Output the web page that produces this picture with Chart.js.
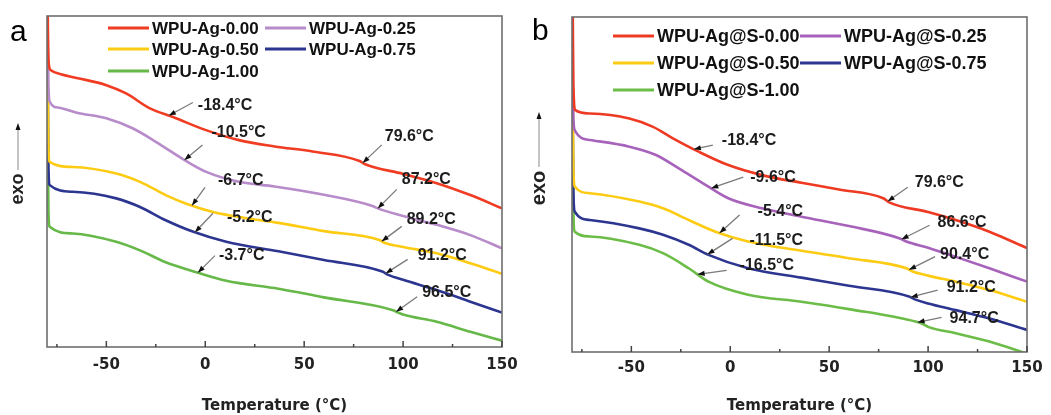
<!DOCTYPE html>
<html>
<head>
<meta charset="utf-8">
<script src="https://cdn.jsdelivr.net/npm/chart.js@4.4.0/dist/chart.umd.min.js"></script>
<style>
  html, body { margin: 0; padding: 0; background: #fff; }
  #wrap { position: relative; width: 1051px; height: 415px; overflow: hidden; }
  .panel { position: absolute; top: 0; height: 415px; }
  #pa { left: 0; width: 520px; }
  #pb { left: 520px; width: 531px; }
</style>
</head>
<body>
<div id="wrap">
  <div class="panel" id="pa"><canvas id="chartA" width="520" height="415"></canvas></div>
  <div class="panel" id="pb"><canvas id="chartB" width="531" height="415"></canvas></div>
</div>
<script>
// tick positions on the temperature axis (labels only on multiples of 50)
const xTicks = [-75, -50, -25, 0, 25, 50, 75, 100, 125, 150];

// ---- panel a : WPU-Ag ----
const aNames = ['WPU-Ag-0.00', 'WPU-Ag-0.25', 'WPU-Ag-0.50', 'WPU-Ag-0.75', 'WPU-Ag-1.00'];
const aColors = ['#f03c22', '#b88bca', '#fdcb12', '#2c3590', '#66b848'];

const aT0 = [-79.6, -79.4, -79, -78, -73, -65, -50, -40, -28, -16, 0, 17, 35, 55, 78, 80.5, 100, 117, 134, 150];
const aY0 = [100, 90, 85, 83.6, 82.4, 81.3, 79.1, 76.6, 72.1, 69.4, 65.6, 62.5, 60.6, 59.0, 56.2, 55.3, 52.3, 49.5, 45.9, 41.9];
const aT1 = [-79.6, -79.3, -78.6, -74, -65, -50, -36.5, -25, -10, 0.5, 17, 35, 60, 84.5, 87.5, 100, 117, 134, 150];
const aY1 = [93, 80, 74.1, 72.3, 70.8, 69.1, 66, 62, 56.3, 52.9, 49.9, 48.5, 46, 42.6, 41.8, 39.6, 36.9, 33.8, 29.8];
const aT2 = [-79.6, -79.3, -78.6, -67, -45, -33, -20, -9.6, 4, 20, 37, 60, 88, 90.5, 100, 117, 134, 150];
const aY2 = [83, 62, 55.9, 54.4, 52.4, 49.9, 45.9, 43.3, 40.8, 39.0, 37.5, 35.0, 32.3, 31.5, 30.2, 28.3, 25.3, 22.1];
const aT3 = [-79.6, -79.3, -78.6, -67, -45, -33, -20, -6, 10.6, 37, 60, 89.5, 92.5, 100, 117, 134, 150];
const aY3 = [77.6, 55, 48.9, 46.9, 44.9, 42.3, 38.3, 34.8, 31.8, 28.9, 26.3, 22.8, 21.8, 20.3, 17.2, 13.7, 10.4];
const aT4 = [-79.6, -79.3, -78.6, -67, -45, -33, -20, -4.5, 10.6, 37, 60, 94.5, 97.5, 100, 117, 134, 150];
const aY4 = [64, 42, 36.3, 34.3, 31.8, 29.2, 25.6, 22.6, 20.0, 17.6, 15.0, 11.2, 10.4, 9.8, 7.6, 4.6, 1.9];

const aTg = [-18.4, -10.5, 79.6, -6.7, 87.2, -5.2, 89.2, -3.7, 91.2, 96.5];
const aTgSeries = [0, 1, 0, 2, 1, 3, 2, 4, 3, 4];

// ---- panel b : WPU-Ag@S ----
const bNames = ['WPU-Ag@S-0.00', 'WPU-Ag@S-0.25', 'WPU-Ag@S-0.50', 'WPU-Ag@S-0.75', 'WPU-Ag@S-1.00'];
const bColors = ['#ee3a22', '#a762bb', '#fdcb12', '#2c3590', '#6cbd48'];

const bT0 = [-79.6, -79.3, -78.3, -71, -51, -39, -29, -16, -1, 16, 36, 55, 77.3, 80.6, 100, 114, 131, 150];
const bY0 = [100, 80, 72.2, 71.2, 69.7, 67.2, 63.8, 59.8, 55.8, 52.8, 50.5, 48.5, 45.9, 44.6, 41.8, 39.4, 35.9, 31];
const bT1 = [-79.6, -79.3, -78.6, -71, -51, -37.5, -26, -12.5, -1, 16, 36, 60, 85.7, 89, 100, 114, 131, 150];
const bY1 = [78, 70, 66.2, 63.3, 61.3, 58.8, 54.8, 49.9, 45.9, 42.9, 40.4, 37.6, 33.9, 33.0, 31.1, 28.4, 25, 21];
const bT2 = [-79.6, -79.3, -78.6, -71, -46, -34, -21, -7.5, 9, 36, 60, 89, 91.6, 100, 114, 131, 150];
const bY2 = [76, 55, 49.4, 47.4, 44.9, 42.9, 39.4, 35.9, 33, 30.2, 28, 25, 24.2, 22.8, 21, 18.5, 15];
const bT3 = [-79.6, -79.3, -78.6, -71, -46, -34, -21, -11, 9, 36, 60, 90.7, 93.3, 100, 114, 131, 150];
const bY3 = [67, 48, 41.9, 39.4, 36.9, 35, 32, 29, 25, 22.2, 19.8, 16.5, 15.7, 14.5, 12.5, 10, 6.6];
const bT4 = [-79.6, -79.3, -78.6, -71, -46, -34, -21, -11, 9, 36, 60, 94.1, 97.5, 100, 114, 131, 150];
const bY4 = [59, 42, 35.9, 34.5, 32, 29.5, 25, 21, 17.1, 15, 12.8, 9, 8.3, 7.5, 5.6, 3.1, -0.5];

const bTg = [-18.4, -9.6, 79.6, -5.4, 86.6, -11.5, 90.4, -16.5, 91.2, 94.7];
const bTgSeries = [0, 1, 0, 2, 1, 3, 2, 4, 3, 4];

// layout of the two panels (pixels, canvas-local)
const layoutA = {
  pad: {left: 47, top: 16, right: 18, bottom: 0}, axisH: 68, tickPad: 9,
  letter: 'a', letterX: 10, letterY: 41,
  exoX: 18, exoY: 189, exoFont: 18, arrowTop: 123, arrowBottom: 170,
  legendX: [108, 265], legendY: [28, 49, 71], legendFont: 17,
  tail: [[24,-13],[18,-15],[19,-18],[13,-18],[19,-19],[18,-19],[20,-15],[17,-17],[22,-14],[21,-15]],
  text: [[29,-10],[27,-27],[22,-26],[26,-25],[24,-29],[32,-15],[25,-22],[21,-17],[32,-18],[26,-19]]
};
const layoutB = {
  pad: {left: 52, top: 17, right: 24, bottom: 0}, axisH: 63, tickPad: 7,
  letter: 'b', letterX: 12, letterY: 40,
  exoX: 19, exoY: 188, exoFont: 20, arrowTop: 112, arrowBottom: 167,
  legendX: [93, 280], legendY: [36, 63, 90], legendFont: 18,
  tail: [[19,-4],[32,-11],[20,-14],[20,-18],[28,-14],[25,-16],[26,-13],[29,-4],[27,-7],[24,-5]],
  text: [[28,-9],[39,-11],[27,-19],[38,-21],[36,-17],[42,-14],[31,-15],[42,-9],[36,-10],[32,-4]]
};

function valueAt(ts, ys, t) {
  for (let i = 1; i < ts.length; i++) {
    if (t <= ts[i]) {
      const f = (t - ts[i-1]) / (ts[i] - ts[i-1]);
      return ys[i-1] + f * (ys[i] - ys[i-1]);
    }
  }
  return ys[ys.length - 1];
}

function arrow(ctx, x1, y1, x0, y0) {
  // gray shaft from tail (x1,y1) to tip (x0,y0), black head at tip
  ctx.strokeStyle = '#7a7a7a';
  ctx.lineWidth = 1.3;
  ctx.beginPath(); ctx.moveTo(x1, y1); ctx.lineTo(x0, y0); ctx.stroke();
  const a = Math.atan2(y0 - y1, x0 - x1);
  ctx.fillStyle = '#111';
  ctx.beginPath();
  ctx.moveTo(x0, y0);
  ctx.lineTo(x0 - 7 * Math.cos(a) + 2.6 * Math.sin(a), y0 - 7 * Math.sin(a) - 2.6 * Math.cos(a));
  ctx.lineTo(x0 - 7 * Math.cos(a) - 2.6 * Math.sin(a), y0 - 7 * Math.sin(a) + 2.6 * Math.cos(a));
  ctx.closePath();
  ctx.fill();
}

const decor = {
  id: 'decor',
  afterDraw(chart) {
    const L = chart.options.plugins.decor;
    const ctx = chart.ctx;
    const area = chart.chartArea;
    const xs = chart.scales.x, ys = chart.scales.y;
    ctx.save();

    // frame
    ctx.strokeStyle = '#6e6e6e';
    ctx.lineWidth = 1.6;
    ctx.strokeRect(area.left, area.top, area.right - area.left, area.bottom - area.top);

    // ticks pointing inward
    ctx.strokeStyle = '#444';
    ctx.lineWidth = 1.5;
    xs.ticks.forEach(t => {
      const x = xs.getPixelForValue(t.value);
      const len = t.value % 50 === 0 ? 6 : 3;
      ctx.beginPath(); ctx.moveTo(x, area.bottom); ctx.lineTo(x, area.bottom - len); ctx.stroke();
    });

    // transition labels with arrows
    ctx.font = 'bold 16px "Liberation Sans", Arial, sans-serif';
    ctx.textBaseline = 'middle';
    ctx.textAlign = 'left';
    L.tg.forEach((tg, k) => {
      const s = L.series[L.tgSeries[k]];
      const x0 = xs.getPixelForValue(tg);
      const y0 = ys.getPixelForValue(valueAt(s[0], s[1], tg));
      arrow(ctx, x0 + L.tail[k][0], y0 + L.tail[k][1], x0, y0);
      ctx.fillStyle = '#1c1c1c';
      ctx.fillText(tg.toFixed(1) + '°C', x0 + L.text[k][0], y0 + L.text[k][1]);
    });

    // legend inside the plot, two columns
    ctx.font = 'bold ' + L.legendFont + 'px "Liberation Sans", Arial, sans-serif';
    chart.data.datasets.forEach((ds, i) => {
      const x = L.legendX[i % 2], y = L.legendY[Math.floor(i / 2)];
      ctx.strokeStyle = ds.borderColor;
      ctx.lineWidth = 3;
      ctx.beginPath(); ctx.moveTo(x, y); ctx.lineTo(x + 41, y); ctx.stroke();
      ctx.fillStyle = '#111';
      ctx.fillText(ds.label, x + 44, y + 1);
    });

    // panel letter
    ctx.fillStyle = '#000';
    ctx.font = '30px "Liberation Sans", Arial, sans-serif';
    ctx.textBaseline = 'alphabetic';
    ctx.fillText(L.letter, L.letterX, L.letterY);

    // "exo" with up arrow
    ctx.strokeStyle = '#8a8a8a';
    ctx.lineWidth = 1;
    ctx.beginPath(); ctx.moveTo(L.exoX, L.arrowBottom); ctx.lineTo(L.exoX, L.arrowTop + 4); ctx.stroke();
    ctx.fillStyle = '#111';
    ctx.beginPath();
    ctx.moveTo(L.exoX, L.arrowTop);
    ctx.lineTo(L.exoX - 2.5, L.arrowTop + 7);
    ctx.lineTo(L.exoX + 2.5, L.arrowTop + 7);
    ctx.closePath(); ctx.fill();
    ctx.translate(L.exoX, L.exoY);
    ctx.rotate(-Math.PI / 2);
    ctx.textAlign = 'center';
    ctx.textBaseline = 'middle';
    ctx.fillStyle = '#222';
    ctx.font = 'bold ' + L.exoFont + 'px "Liberation Sans", Arial, sans-serif';
    ctx.fillText('exo', 0, 0);

    ctx.restore();
  }
};

function createChart(canvasId, names, colors, series, tg, tgSeries, L) {
  L.series = series;
  L.tg = tg;
  L.tgSeries = tgSeries;
  return new Chart(document.getElementById(canvasId), {
    type: 'line',
    data: {
      datasets: names.map((n, i) => ({
        label: n,
        data: series[i][0].map((t, j) => ({x: t, y: series[i][1][j]})),
        borderColor: colors[i],
        borderWidth: 2.6,
        pointRadius: 0,
        fill: false,
        cubicInterpolationMode: 'monotone'
      }))
    },
    options: {
      responsive: false,
      animation: false,
      devicePixelRatio: 1,
      layout: {padding: L.pad},
      plugins: {legend: {display: false}, tooltip: {enabled: false}, decor: L},
      scales: {
        x: {
          type: 'linear',
          min: -80,
          max: 150,
          afterBuildTicks: s => { s.ticks = xTicks.map(v => ({value: v})); },
          afterFit: s => { s.height = L.axisH; s.paddingLeft = 0; s.paddingRight = 0; },
          grid: {display: false, drawTicks: false},
          border: {display: false},
          ticks: {
            padding: L.tickPad,
            color: '#222',
            font: {family: '"DejaVu Sans", sans-serif', size: 15, weight: 'bold'},
            callback: v => (v % 50 === 0 ? v : '')
          },
          title: {
            display: true,
            text: 'Temperature (°C)',
            color: '#222',
            padding: {top: 0, bottom: 0},
            font: {family: '"DejaVu Sans", sans-serif', size: 15, weight: 'bold'}
          }
        },
        y: {display: false, min: 0, max: 100}
      }
    },
    plugins: [decor]
  });
}

createChart('chartA', aNames, aColors,
  [[aT0, aY0], [aT1, aY1], [aT2, aY2], [aT3, aY3], [aT4, aY4]], aTg, aTgSeries, layoutA);
createChart('chartB', bNames, bColors,
  [[bT0, bY0], [bT1, bY1], [bT2, bY2], [bT3, bY3], [bT4, bY4]], bTg, bTgSeries, layoutB);
</script>
</body>
</html>
